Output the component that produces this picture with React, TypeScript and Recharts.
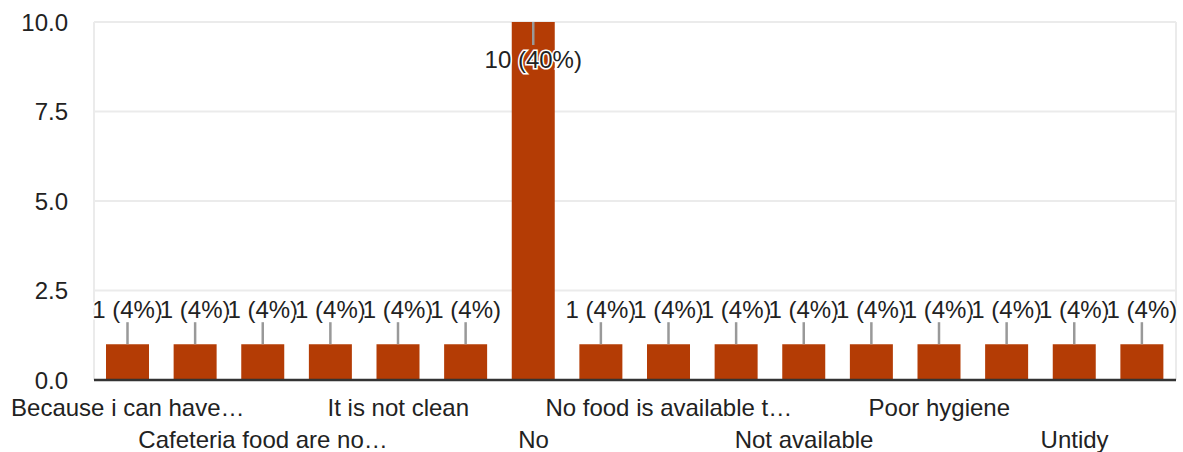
import React from "react";
import { BarChart, Bar, XAxis, YAxis, CartesianGrid, LabelList } from "recharts";

const categories: string[] = [
  "Because i can have…",
  "Because the food is…",
  "Cafeteria food are no…",
  "Dirty",
  "It is not clean",
  "It is unhygienic",
  "No",
  "No cleanliness",
  "No food is available t…",
  "No water",
  "Not available",
  "Not hygienic",
  "Poor hygiene",
  "Quality is poor",
  "Untidy",
  "Very dirty",
];
const counts: number[] = [1, 1, 1, 1, 1, 1, 10, 1, 1, 1, 1, 1, 1, 1, 1, 1];
const yTicks: number[] = [0, 2.5, 5, 7.5, 10];

const total = counts.reduce((a, b) => a + b, 0);
const data = categories.map((name, i) => ({ name, value: counts[i] }));

const FONT = "'Liberation Sans', Arial, sans-serif";
const TEXT = "#222222";
const BAR = "#b43c05";
const TOP = 22;
const FS = 24;

const XTick = (props: any) => {
  const { x, y, payload, index } = props;
  const idx = typeof index === "number" ? index : payload?.index ?? 0;
  if (idx % 2 !== 0) return null;
  const row = (idx / 2) % 2;
  return (
    <text
      x={x}
      y={y}
      dy={row === 0 ? 28 : 60}
      textAnchor="middle"
      fontFamily={FONT}
      fontSize={FS}
      fill={TEXT}
    >
      {payload.value}
    </text>
  );
};

const DataLabel = (props: any) => {
  const { x, y, width, value } = props;
  const cx = x + width / 2;
  const pct = Math.round((value / total) * 100);
  const txt = `${value} (${pct}%)`;
  const inside = y - 50 < TOP;
  const lineEnd = inside ? y + 23 : y - 22;
  const textY = inside ? y + 46 : y - 26;
  return (
    <g>
      <line x1={cx} y1={y} x2={cx} y2={lineEnd} stroke="#999999" strokeWidth={2.5} />
      <text
        x={cx}
        y={textY}
        textAnchor="middle"
        fontFamily={FONT}
        fontSize={FS}
        fill={TEXT}
        stroke="#ffffff"
        strokeWidth={3}
        style={{ paintOrder: "stroke" }}
      >
        {txt}
      </text>
    </g>
  );
};

export default function App() {
  return (
    <div style={{ position: "absolute", left: 0, top: 0, width: 1183, height: 452, background: "#fff" }}>
      <BarChart
        width={1183}
        height={452}
        data={data}
        margin={{ top: TOP, right: 7, bottom: 0, left: 0 }}
        barCategoryGap="18%"
      >
        <CartesianGrid
          stroke="#ebebeb"
          strokeWidth={2}
          verticalCoordinatesGenerator={(p: any) => [p.offset.left, p.offset.left + p.offset.width]}
        />
        <XAxis
          dataKey="name"
          interval={0}
          tickLine={false}
          axisLine={{ stroke: "#333333", strokeWidth: 2.5 }}
          height={72}
          tick={<XTick />}
        />
        <YAxis
          domain={[0, 10]}
          ticks={yTicks}
          width={94}
          tickLine={false}
          axisLine={false}
          tickMargin={20}
          tickFormatter={(v: number) => v.toFixed(1)}
          tick={{ fontFamily: FONT, fontSize: FS, fill: TEXT }}
        />
        <Bar dataKey="value" fill={BAR} barSize={43} isAnimationActive={false}>
          <LabelList dataKey="value" content={<DataLabel />} />
        </Bar>
      </BarChart>
    </div>
  );
}
